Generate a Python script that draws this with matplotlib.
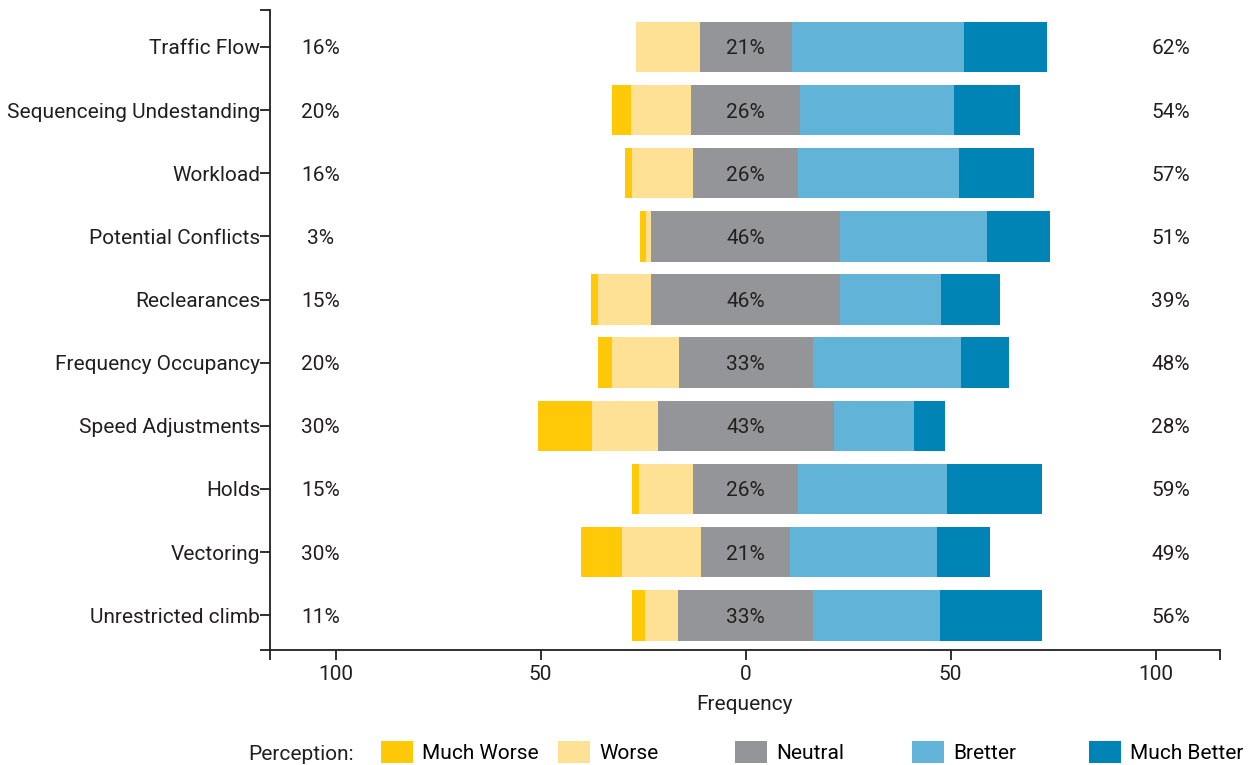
import matplotlib.pyplot as plt
import numpy as np
from matplotlib.patches import Patch

plt.rcParams['font.family'] = ['Roboto', 'DejaVu Sans']
plt.rcParams['font.size'] = 15

# categories, top to bottom
categories = ['Traffic Flow', 'Sequenceing Undestanding', 'Workload', 'Potential Conflicts',
              'Reclearances', 'Frequency Occupancy', 'Speed Adjustments', 'Holds',
              'Vectoring', 'Unrestricted climb']

# percentages per perception level
much_worse = np.array([0.0, 4.6, 1.7, 1.5, 1.7, 3.4, 13.2, 1.7, 10.0, 3.2])
worse = np.array([15.6, 14.6, 14.9, 1.2, 12.9, 16.3, 16.1, 13.2, 19.3, 8.0])
neutral = np.array([22.4, 26.6, 25.6, 46.0, 46.0, 32.7, 42.9, 25.6, 21.7, 32.9])
better = np.array([42.0, 37.6, 39.3, 35.9, 24.6, 36.3, 19.5, 36.3, 35.9, 31.0])
much_better = np.array([20.2, 16.1, 18.3, 15.4, 14.4, 11.5, 7.8, 23.2, 12.9, 24.9])

low_labels = ['16%', '20%', '16%', '3%', '15%', '20%', '30%', '15%', '30%', '11%']
neutral_labels = ['21%', '26%', '26%', '46%', '46%', '33%', '43%', '26%', '21%', '33%']
high_labels = ['62%', '54%', '57%', '51%', '39%', '48%', '28%', '59%', '49%', '56%']

levels = ['Much Worse', 'Worse', 'Neutral', 'Bretter', 'Much Better']
colors = ['#FFC907', '#FEE194', '#949599', '#61B3D8', '#0083B5']

fig = plt.figure(figsize=(12.57, 7.65), dpi=100)
ax = fig.add_axes([270 / 1257, 1 - 650 / 765, 950 / 1257, 640 / 765])

y = np.arange(len(categories))[::-1]
h = 0.8
starts = [-(neutral / 2 + worse + much_worse), -(neutral / 2 + worse), -neutral / 2,
          neutral / 2, neutral / 2 + better]
widths = [much_worse, worse, neutral, better, much_better]
for s, w, c in zip(starts, widths, colors):
    ax.barh(y, w, left=s, height=h, color=c, linewidth=0)

for yi, lo, ne, hi in zip(y, low_labels, neutral_labels, high_labels):
    ax.text(-103.7, yi, lo, ha='center', va='center_baseline', color='#231F20')
    ax.text(0, yi, ne, ha='center', va='center_baseline', color='#231F20')
    ax.text(103.7, yi, hi, ha='center', va='center_baseline', color='#231F20')

xmin, xmax = -116, 115.7
ymin, ymax = -0.55, 9.585
ax.set_xlim(xmin, xmax)
ax.set_ylim(ymin, ymax)

ax.set_xticks([xmin, -100, -50, 0, 50, 100, xmax])
ax.set_xticklabels(['', '100', '50', '0', '50', '100', ''])
ax.set_yticks([ymin] + list(y) + [ymax])
ax.set_yticklabels([''] + categories + [''], va='center_baseline')

for side in ['top', 'right']:
    ax.spines[side].set_visible(False)
for side in ['left', 'bottom']:
    ax.spines[side].set_linewidth(1.3)
    ax.spines[side].set_color('#231F20')
ax.tick_params(axis='both', direction='out', length=7, width=1.3, color='#231F20',
               labelcolor='#231F20')
ax.tick_params(axis='y', pad=0)
ax.tick_params(axis='x', pad=4)
ax.set_xlabel('Frequency', fontsize=15, labelpad=8, color='#231F20')

# legend: fixed-width columns, one small legend per level
fig.text(248 / 1257, 1 - 753 / 765, 'Perception:', ha='left', va='center_baseline',
         color='#231F20')
for i, (lab, c) in enumerate(zip(levels, colors)):
    fig.legend([Patch(facecolor=c, edgecolor='none')], [lab], loc='center left',
               bbox_to_anchor=((381 + 177 * i) / 1257, 1 - 752 / 765),
               frameon=False, borderpad=0, borderaxespad=0, handlelength=1.54,
               handleheight=1.3, handletextpad=0.45)

fig.savefig('out.png', dpi=100)
